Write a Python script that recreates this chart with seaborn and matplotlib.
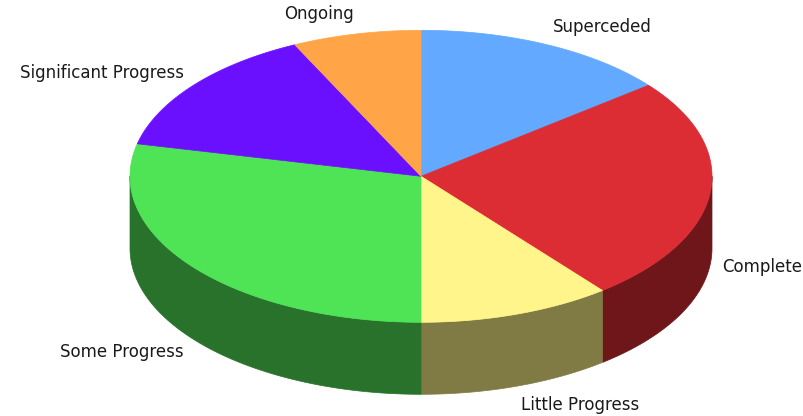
import numpy as np
import matplotlib
matplotlib.use("Agg")
import matplotlib.pyplot as plt
from matplotlib.patches import Polygon
import seaborn as sns

# slice data, clockwise from 12 o'clock
labels = ["Superceded", "Complete", "Little Progress", "Some Progress",
          "Significant Progress", "Ongoing"]
values = [8, 14, 6, 16, 8, 4]
colors = ["#62A9FF", "#DC2C34", "#FFF58A", "#4FE356", "#6A10FF", "#FFA547"]

sns.set_theme(style="white")
plt.rcParams['font.family'] = ['DejaVu Sans']

W, H = 804, 416
fig = plt.figure(figsize=(W / 100, H / 100), dpi=100)
ax = fig.add_axes([0, 0, 1, 1])
ax.set_xlim(0, W)
ax.set_ylim(H, 0)
ax.axis("off")

cx, cy = 421, 176.3
rx, ry = 291, 146
depth = 72

palette = sns.color_palette(colors)
fracs = np.array(values, dtype=float) / sum(values)
bounds = np.concatenate([[0], np.cumsum(fracs) * 360])


def ell(t, dy=0):
    r = np.radians(t)
    return np.column_stack([cx + rx * np.sin(r), cy - ry * np.cos(r) + dy])


# side walls (front half only: 90..270 deg)
for i, col in enumerate(palette):
    a0, a1 = max(bounds[i], 90), min(bounds[i + 1], 270)
    if a1 <= a0:
        continue
    t = np.linspace(a0, a1, 200)
    pts = np.vstack([ell(t), ell(t[::-1], depth)])
    dark = tuple(c * 0.5 for c in col)
    ax.add_patch(Polygon(pts, closed=True, facecolor=dark, edgecolor=dark,
                         linewidth=0.5))

# top faces
for i, col in enumerate(palette):
    t = np.linspace(bounds[i], bounds[i + 1], 300)
    pts = np.vstack([[cx, cy], ell(t)])
    ax.add_patch(Polygon(pts, closed=True, facecolor=col, edgecolor=col,
                         linewidth=0.5))

# labels
for i, lab in enumerate(labels):
    mid = (bounds[i] + bounds[i + 1]) / 2
    r = np.radians(mid)
    x = cx + (rx + 12) * np.sin(r)
    y = cy - (ry + 20) * np.cos(r)
    if np.cos(r) < 0:
        y += depth
    ha = "left" if np.sin(r) > 0 else "right"
    ax.text(x, y, lab, ha=ha, va="center", fontsize=12, color="#1a1a1a")

fig.savefig("out.png", dpi=100)
